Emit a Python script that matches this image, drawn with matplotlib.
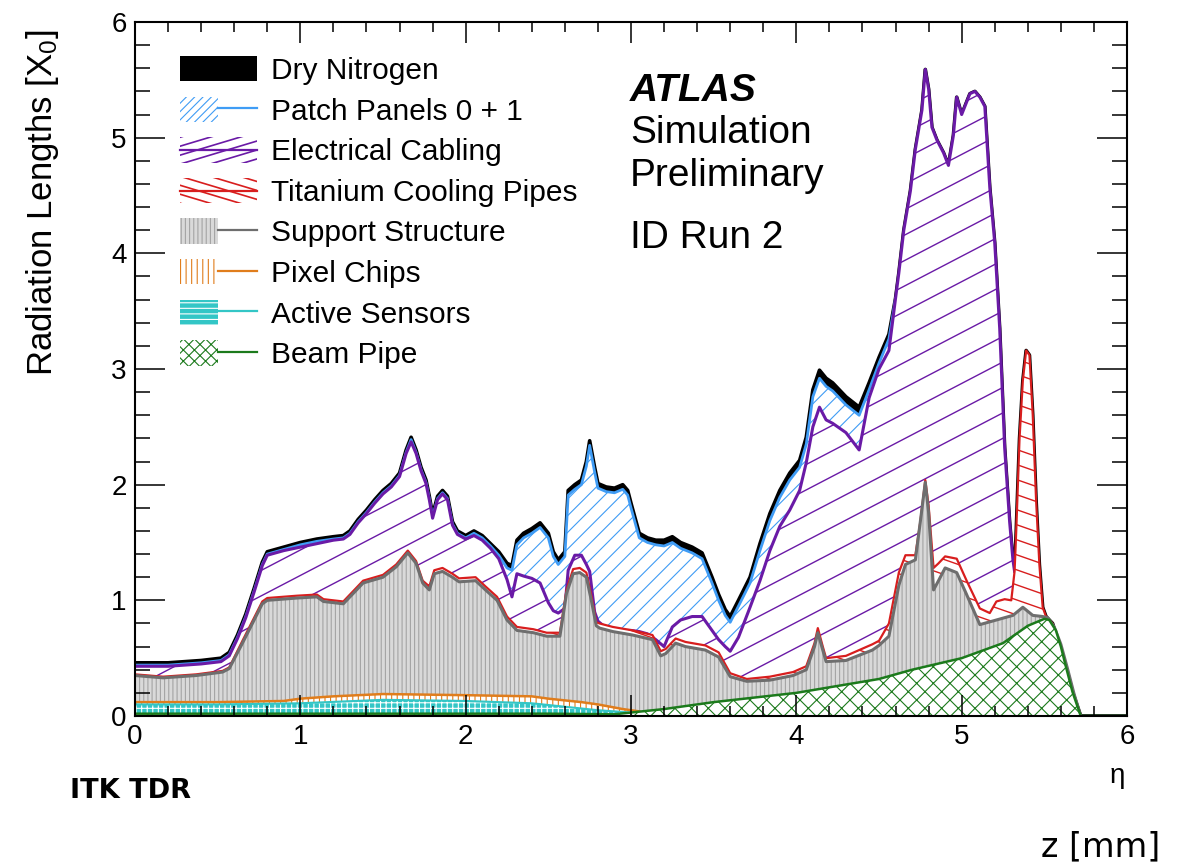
import numpy as np
import matplotlib
matplotlib.use("Agg")
import matplotlib.pyplot as plt
from matplotlib.patches import Patch, Rectangle
from matplotlib.lines import Line2D
from matplotlib.collections import LineCollection
from matplotlib.legend_handler import HandlerBase, HandlerTuple
from matplotlib.ticker import MultipleLocator

plt.rcParams['font.family'] = ['Liberation Sans', 'DejaVu Sans']
plt.rcParams['mathtext.default'] = 'regular'
plt.rcParams['hatch.linewidth'] = 0.8

# cumulative upper edges (radiation lengths vs eta)
eta_total = [0.0, 0.2, 0.4, 0.52, 0.57, 0.62, 0.67, 0.72, 0.77, 0.8, 0.9, 1.0, 1.1, 1.2, 1.26, 1.3,
             1.35, 1.4, 1.45, 1.5, 1.55, 1.6, 1.64, 1.67, 1.7, 1.73, 1.76, 1.78, 1.8, 1.83, 1.86, 1.89,
             1.92, 1.95, 2.0, 2.05, 2.1, 2.15, 2.2, 2.25, 2.28, 2.31, 2.35, 2.4, 2.45, 2.5, 2.53, 2.56,
             2.6, 2.62, 2.66, 2.7, 2.73, 2.75, 2.78, 2.8, 2.85, 2.9, 2.95, 2.98, 3.0, 3.05, 3.1, 3.15,
             3.2, 3.25, 3.3, 3.37, 3.43, 3.49, 3.53, 3.57, 3.6, 3.65, 3.72, 3.78, 3.84, 3.9, 3.96, 4.02,
             4.06, 4.1, 4.14, 4.18, 4.22, 4.3, 4.38, 4.44, 4.5, 4.56, 4.6, 4.62, 4.65, 4.69, 4.72, 4.76,
             4.78, 4.8, 4.82, 4.85, 4.89, 4.92, 4.95, 4.97, 5.0, 5.05, 5.08, 5.11, 5.14, 5.17, 5.2, 5.23,
             5.26, 5.29, 5.31, 5.32, 5.33, 5.35, 5.37, 5.39, 5.41, 5.43, 5.45, 5.47, 5.49, 5.51, 5.55,
             5.59, 5.63, 5.67, 5.72, 6.0]
top_nitrogen = [0.46, 0.46, 0.48, 0.50, 0.55, 0.70, 0.88, 1.10, 1.33, 1.42, 1.46, 1.50, 1.53, 1.55, 1.56, 1.60,
                1.70, 1.78, 1.87, 1.95, 2.01, 2.10, 2.30, 2.41, 2.30, 2.15, 2.04, 1.90, 1.74, 1.90, 1.95, 1.90,
                1.68, 1.60, 1.56, 1.60, 1.56, 1.49, 1.42, 1.32, 1.30, 1.52, 1.58, 1.62, 1.67, 1.58, 1.42, 1.35,
                1.42, 1.95, 2.00, 2.04, 2.20, 2.38, 2.15, 2.01, 1.98, 1.97, 2.00, 1.95, 1.84, 1.58, 1.54, 1.52,
                1.52, 1.55, 1.50, 1.46, 1.41, 1.20, 1.05, 0.92, 0.86, 1.00, 1.20, 1.49, 1.75, 1.95, 2.10, 2.21,
                2.41, 2.82, 2.99, 2.92, 2.88, 2.76, 2.67, 2.88, 3.10, 3.30, 3.61, 3.83, 4.20, 4.54, 4.90, 5.24,
                5.59, 5.42, 5.09, 4.98, 4.87, 4.76, 5.02, 5.35, 5.20, 5.38, 5.40, 5.35, 5.27, 4.57, 4.09, 3.35,
                2.32, 1.68, 1.35, 1.25, 1.60, 2.40, 2.90, 3.16, 3.12, 2.60, 1.87, 1.31, 0.94, 0.86, 0.80,
                0.61, 0.43, 0.21, 0.00, 0.00]

eta_patch = eta_total[:91]
top_patch = [0.44, 0.44, 0.46, 0.48, 0.53, 0.68, 0.86, 1.08, 1.31, 1.40, 1.44, 1.48, 1.51, 1.53, 1.54, 1.58,
             1.68, 1.76, 1.85, 1.93, 1.99, 2.08, 2.28, 2.39, 2.28, 2.13, 2.02, 1.88, 1.72, 1.88, 1.93, 1.88,
             1.66, 1.58, 1.54, 1.58, 1.54, 1.47, 1.39, 1.28, 1.26, 1.48, 1.54, 1.58, 1.63, 1.54, 1.38, 1.31,
             1.38, 1.91, 1.96, 2.00, 2.16, 2.34, 2.11, 1.97, 1.94, 1.93, 1.96, 1.91, 1.80, 1.54, 1.50, 1.48,
             1.47, 1.50, 1.45, 1.41, 1.36, 1.15, 1.00, 0.87, 0.81, 0.95, 1.15, 1.43, 1.69, 1.89, 2.04, 2.15,
             2.35, 2.76, 2.92, 2.85, 2.81, 2.69, 2.60, 2.82, 3.05, 3.26, 3.61]

eta_cabling = eta_total[:116]
top_cabling = [0.43, 0.43, 0.45, 0.47, 0.52, 0.67, 0.85, 1.07, 1.30, 1.39, 1.43, 1.46, 1.49, 1.52, 1.53, 1.57,
               1.67, 1.75, 1.84, 1.92, 1.98, 2.07, 2.27, 2.37, 2.27, 2.12, 2.01, 1.87, 1.71, 1.87, 1.92, 1.87,
               1.65, 1.57, 1.53, 1.56, 1.52, 1.45, 1.36, 1.18, 1.03, 1.23, 1.21, 1.19, 1.15, 0.98, 0.91, 0.89,
               0.93, 1.26, 1.39, 1.39, 1.31, 1.25, 0.90, 0.82, 0.76, 0.75, 0.74, 0.74, 0.74, 0.73, 0.71, 0.66,
               0.60, 0.77, 0.83, 0.86, 0.86, 0.74, 0.66, 0.60, 0.56, 0.68, 0.94, 1.17, 1.43, 1.64, 1.78, 1.95,
               2.19, 2.50, 2.67, 2.56, 2.53, 2.45, 2.30, 2.75, 3.00, 3.16, 3.61, 3.83, 4.20, 4.54, 4.90, 5.24,
               5.59, 5.42, 5.09, 4.98, 4.87, 4.76, 5.02, 5.35, 5.20, 5.38, 5.40, 5.35, 5.27, 4.57, 4.09, 3.35,
               2.32, 1.68, 1.35, 1.25]

eta_ti = [0.0, 0.17, 0.37, 0.53, 0.57, 0.65, 0.71, 0.77, 0.8, 0.98, 1.1, 1.14, 1.26, 1.3, 1.38, 1.5, 1.58,
          1.65, 1.7, 1.74, 1.78, 1.81, 1.86, 1.92, 1.96, 2.06, 2.12, 2.19, 2.25, 2.31, 2.41, 2.49, 2.57,
          2.61, 2.65, 2.69, 2.73, 2.76, 2.79, 2.81, 2.89, 3.01, 3.13, 3.18, 3.21, 3.27, 3.33, 3.45, 3.53,
          3.6, 3.7, 3.84, 3.98, 4.06, 4.11, 4.13, 4.16, 4.18, 4.3, 4.46, 4.5, 4.56, 4.62, 4.66, 4.72, 4.75,
          4.78, 4.8, 4.83, 4.86, 4.9, 4.97, 5.03, 5.11, 5.17, 5.21, 5.26, 5.3, 5.32, 5.33, 5.35, 5.37,
          5.39, 5.41, 5.43, 5.45, 5.47, 5.49, 5.51, 5.55, 5.59, 5.63, 5.67, 5.72]
top_ti = [0.36, 0.34, 0.36, 0.39, 0.42, 0.65, 0.82, 0.99, 1.02, 1.04, 1.05, 1.01, 0.99, 1.05, 1.17, 1.22, 1.31,
          1.43, 1.34, 1.17, 1.12, 1.26, 1.28, 1.23, 1.19, 1.20, 1.12, 1.03, 0.86, 0.77, 0.75, 0.72, 0.72,
          1.09, 1.27, 1.28, 1.24, 1.04, 0.81, 0.80, 0.77, 0.74, 0.70, 0.56, 0.58, 0.67, 0.64, 0.61, 0.55,
          0.37, 0.32, 0.34, 0.38, 0.43, 0.63, 0.76, 0.60, 0.50, 0.52, 0.62, 0.65, 0.80, 1.24, 1.39, 1.39, 1.68,
          2.04, 1.82, 1.28, 1.32, 1.38, 1.36, 1.17, 0.93, 0.89, 0.99, 1.01, 1.00, 1.25, 1.60, 2.40, 2.90,
          3.16, 3.12, 2.60, 1.87, 1.31, 0.94, 0.86, 0.80, 0.61, 0.43, 0.21, 0.00]

eta_support = [0.0, 0.17, 0.37, 0.53, 0.57, 0.65, 0.71, 0.77, 0.8, 0.98, 1.1, 1.14, 1.26, 1.3, 1.38, 1.5, 1.58,
               1.65, 1.7, 1.74, 1.78, 1.81, 1.86, 1.92, 1.96, 2.06, 2.12, 2.19, 2.25, 2.31, 2.41, 2.49, 2.57,
               2.61, 2.65, 2.69, 2.73, 2.76, 2.79, 2.81, 2.89, 3.01, 3.13, 3.18, 3.21, 3.27, 3.33, 3.45, 3.53,
               3.6, 3.7, 3.84, 3.98, 4.06, 4.11, 4.13, 4.16, 4.18, 4.3, 4.46, 4.5, 4.56, 4.62, 4.66, 4.72, 4.75,
               4.78, 4.8, 4.83, 4.86, 4.9, 4.97, 5.03, 5.11, 5.21, 5.31, 5.37, 5.43, 5.49, 5.52, 5.56, 5.6,
               5.64, 5.68, 5.72]
top_support = [0.35, 0.33, 0.35, 0.38, 0.41, 0.63, 0.80, 0.97, 1.00, 1.02, 1.03, 0.99, 0.97, 1.03, 1.15, 1.20, 1.29,
               1.41, 1.32, 1.15, 1.09, 1.23, 1.25, 1.20, 1.16, 1.17, 1.09, 1.00, 0.83, 0.74, 0.72, 0.69, 0.69,
               1.06, 1.23, 1.24, 1.20, 1.00, 0.78, 0.76, 0.73, 0.70, 0.66, 0.52, 0.54, 0.63, 0.60, 0.57, 0.51,
               0.34, 0.30, 0.31, 0.35, 0.40, 0.60, 0.72, 0.57, 0.47, 0.48, 0.57, 0.61, 0.69, 1.13, 1.31, 1.35, 1.68,
               2.02, 1.76, 1.09, 1.17, 1.28, 1.24, 1.05, 0.79, 0.83, 0.87, 0.94, 0.87, 0.86, 0.85, 0.77, 0.62,
               0.41, 0.19, 0.00]

eta_chips = [0.0, 0.5, 0.9, 1.0, 1.2, 1.5, 2.0, 2.4, 2.5, 2.7, 2.8, 2.95, 3.05]
top_chips = [0.12, 0.12, 0.13, 0.15, 0.17, 0.19, 0.18, 0.17, 0.15, 0.12, 0.10, 0.06, 0.04]

eta_sensors = [0.0, 0.5, 1.0, 1.5, 2.0, 2.4, 2.6, 2.8, 3.0]
top_sensors = [0.10, 0.10, 0.11, 0.14, 0.13, 0.11, 0.08, 0.05, 0.03]

eta_beam = [0.0, 2.5, 2.9, 3.0, 3.2, 3.5, 4.0, 4.5, 4.7, 5.0, 5.25, 5.4, 5.5, 5.53, 5.57, 5.6, 5.63, 5.67, 5.72, 6.0]
top_beam = [0.02, 0.02, 0.015, 0.03, 0.06, 0.12, 0.20, 0.32, 0.40, 0.50, 0.63, 0.78, 0.84, 0.83, 0.74, 0.60, 0.43,
            0.21, 0.00, 0.00]

labels = ['Dry Nitrogen', 'Patch Panels 0 + 1', 'Electrical Cabling', 'Titanium Cooling Pipes',
          'Support Structure', 'Pixel Chips', 'Active Sensors', 'Beam Pipe']

c_black = 'black'
c_blue = '#3f9cf5'
c_purple = '#6a1aa6'
c_red = '#d81e1e'
c_gray = '#6e6e6e'
c_orange = '#e07d1c'
c_cyan = '#33c6c6'
c_green = '#1c7a1c'
support_face = '#d9d9d9'
support_hatch = '#a4a4a4'


def slanted_lines(ax, poly, slope, step, color, z):
    # hatch lines of a given slope, clipped to a fill polygon
    segs = []
    for c in np.arange(-6 * abs(slope) - 1, 7 + 6 * abs(slope), step):
        segs.append([(0, c), (6, c + 6 * slope)])
    lc = LineCollection(segs, colors=color, linewidths=1.0, zorder=z)
    ax.add_collection(lc)
    lc.set_clip_path(poly.get_paths()[0], ax.transData)


class SlantHandler(HandlerBase):
    def __init__(self, color, slope):
        super().__init__()
        self.color = color
        self.slope = slope

    def create_artists(self, legend, orig_handle, xdescent, ydescent, width, height, fontsize, trans):
        x0, y0 = -xdescent, -ydescent
        rect = Rectangle((x0, y0), width, height, facecolor='white', edgecolor='none', transform=trans)
        arts = [rect]
        gap = width / 2.6
        for k in range(-4, 6):
            xs = x0 + k * gap
            ln = Line2D([xs, xs + width * 2], [y0 + height / 2 - self.slope * width,
                                               y0 + height / 2 + self.slope * width],
                        color=self.color, lw=1.2, transform=trans)
            ln.set_clip_path(rect)
            arts.append(ln)
        arts.append(Line2D([x0, x0 + width], [y0 + height / 2] * 2, color=self.color, lw=1.6,
                           transform=trans))
        return arts


fig = plt.figure(figsize=(11.8, 8.67), dpi=100)
ax = fig.add_axes([135 / 1180, 1 - 716 / 867, (1127 - 135) / 1180, (716 - 22) / 867])

# ROOT-like overlay: each cumulative histogram filled from zero, drawn top to bottom
ax.fill_between(eta_total, 0, top_nitrogen, facecolor=c_black, edgecolor='none', zorder=1)
ax.plot(eta_total, top_nitrogen, color=c_black, lw=2.6, zorder=1.5)

ax.fill_between(eta_patch, 0, top_patch, facecolor='white', edgecolor=c_blue, hatch='//', lw=0, zorder=2)
ax.plot(eta_patch, top_patch, color=c_blue, lw=2.0, zorder=2.5)

p_cab = ax.fill_between(eta_cabling, 0, top_cabling, facecolor='white', edgecolor='none', zorder=3)
slanted_lines(ax, p_cab, 0.745, 0.22, c_purple, 3.2)
ax.plot(eta_cabling, top_cabling, color=c_purple, lw=2.2, zorder=3.5)

p_ti = ax.fill_between(eta_ti, 0, top_ti, facecolor='white', edgecolor='none', zorder=4)
slanted_lines(ax, p_ti, -0.5, 0.13, c_red, 4.2)
ax.plot(eta_ti, top_ti, color=c_red, lw=1.6, zorder=4.5)

ax.fill_between(eta_support, 0, top_support, facecolor=support_face, edgecolor=support_hatch, hatch='||||',
                lw=0, zorder=5)
ax.plot(eta_support, top_support, color=c_gray, lw=2.2, zorder=5.5)

ax.fill_between(eta_chips, 0, top_chips, facecolor='white', edgecolor=c_orange, hatch='|||', lw=0, zorder=6)
ax.plot(eta_chips, top_chips, color=c_orange, lw=1.8, zorder=6.5)

ax.fill_between(eta_sensors, 0, top_sensors, facecolor=c_cyan, edgecolor='white', hatch='+++', lw=0, zorder=7)
ax.plot(eta_sensors, top_sensors, color=c_cyan, lw=1.5, zorder=7.5)

ax.fill_between(eta_beam, 0, top_beam, facecolor='white', edgecolor=c_green, hatch='xx', lw=0, zorder=8)
ax.plot(eta_beam, top_beam, color=c_green, lw=1.8, zorder=8.5)

ax.set_xlim(0, 6)
ax.set_ylim(0, 6)
ax.xaxis.set_major_locator(MultipleLocator(1))
ax.xaxis.set_minor_locator(MultipleLocator(0.2))
ax.yaxis.set_major_locator(MultipleLocator(1))
ax.yaxis.set_minor_locator(MultipleLocator(0.2))
ax.tick_params(which='both', direction='in', top=True, right=True, width=1.1, labelsize=20)
ax.tick_params(axis='x', which='major', length=15, pad=6)
ax.tick_params(axis='x', which='minor', length=7.5)
ax.tick_params(axis='y', which='major', length=21.5, pad=6)
ax.tick_params(axis='y', which='minor', length=10.8)
for sp in ax.spines.values():
    sp.set_linewidth(1.5)
    sp.set_zorder(20)
ax.xaxis.set_zorder(20)
ax.yaxis.set_zorder(20)

ax.set_ylabel('Radiation Lengths [X$_0$]', fontsize=25, loc='top')
ax.yaxis.set_label_coords(-0.075, 0.99)
ax.set_xlabel('η', fontsize=20, loc='right')
ax.xaxis.set_label_coords(0.998, -0.068)

# legend
key_cab = Patch()
key_ti = Patch()
handles = [
    Patch(facecolor=c_black, edgecolor='none'),
    (Patch(facecolor='white', edgecolor=c_blue, hatch='////', lw=0), Line2D([], [], color=c_blue, lw=1.6)),
    key_cab,
    key_ti,
    (Patch(facecolor=support_face, edgecolor=support_hatch, hatch='||||', lw=0),
     Line2D([], [], color=c_gray, lw=1.6)),
    (Patch(facecolor='white', edgecolor=c_orange, hatch='|||', lw=0), Line2D([], [], color=c_orange, lw=1.6)),
    (Patch(facecolor=c_cyan, edgecolor='white', hatch='---', lw=0), Line2D([], [], color=c_cyan, lw=1.6)),
    (Patch(facecolor='white', edgecolor=c_green, hatch='xxx', lw=0), Line2D([], [], color=c_green, lw=1.6)),
]
ax.legend(handles, labels, loc='upper left', bbox_to_anchor=(0.045, 0.951), frameon=False, fontsize=21.5,
          handlelength=2.6, handleheight=0.93, handletextpad=0.47, labelspacing=0.39, borderpad=0,
          borderaxespad=0,
          handler_map={key_cab: SlantHandler(c_purple, 0.3), key_ti: SlantHandler(c_red, -0.3),
                       tuple: HandlerTuple(ndivide=None)})

ax.text(0.499, 0.886, 'ATLAS', transform=ax.transAxes, fontsize=28, fontweight='bold', fontstyle='italic',
        va='baseline', zorder=30)
ax.text(0.499, 0.826, 'Simulation', transform=ax.transAxes, fontsize=28, va='baseline', zorder=30)
ax.text(0.499, 0.764, 'Preliminary', transform=ax.transAxes, fontsize=28, va='baseline', zorder=30)
ax.text(0.499, 0.674, 'ID Run 2', transform=ax.transAxes, fontsize=28, va='baseline', zorder=30)

fig.text(0.059, 0.0796, 'ITK TDR', fontsize=19.5, fontweight='bold', family='DejaVu Sans', va='baseline')
fig.text(0.983, 0.0127, 'z [mm]', fontsize=24, family='DejaVu Sans', ha='right', va='baseline')

fig.savefig('out.png', dpi=100)
